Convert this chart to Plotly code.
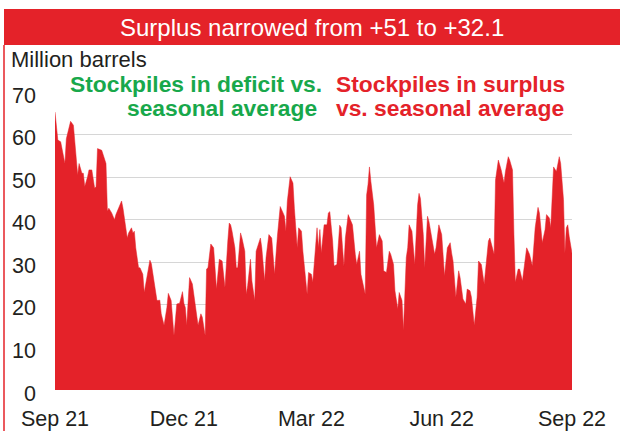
import pandas as pd
import plotly.graph_objects as go

# Days elapsed since 1 Sep 2021 and the stockpile surplus vs. seasonal average (million barrels)
day = [0, 2, 4, 5, 7, 8, 11, 13, 14, 16, 17, 19, 20, 21, 23, 24, 26, 28, 29, 30,
       33, 34, 36, 37, 38, 40, 42, 43, 45, 47, 48, 50, 51, 52, 54, 55, 56, 57, 59,
       60, 62, 63, 65, 67, 68, 70, 72, 74, 75, 77, 79, 80, 82, 84, 85, 86, 88, 90,
       91, 92, 93, 95, 97, 98, 100, 101, 103, 104, 106, 107, 108, 110, 112, 113,
       114, 116, 118, 120, 121, 122,
       123, 124, 125, 127, 128, 129, 131, 132, 134, 135, 136, 138, 139, 141, 142,
       145, 146, 148, 149, 151, 153, 154, 155, 157, 159, 161, 162, 163, 164, 166,
       168, 169, 171, 172, 174, 175, 178, 179, 181, 182, 184,
       185, 186, 187, 188, 189, 190, 192, 193, 194, 196, 197, 199, 201, 202, 203,
       204, 205, 207, 208, 210, 212, 213, 215, 216, 219, 220, 221, 222, 223, 225,
       227, 229, 231, 232, 234, 236, 237, 239, 240, 242, 243, 245, 246, 248,
       249, 250, 252, 253, 254, 256, 257, 258, 260, 261, 263, 264, 266, 268, 269,
       271, 273, 274, 275, 277, 279, 280, 281, 283, 285, 286, 288, 290, 291, 293,
       294, 296, 298, 299, 301, 303, 305, 306, 307, 309,
       310, 311, 313, 315, 317, 318, 320, 321, 323, 324, 325, 327, 328, 330, 331,
       333, 335, 337, 339, 341, 342, 344, 346, 347, 349, 350, 352, 354, 356, 357,
       359, 360, 361, 362, 363, 364, 365]

surplus = [65.3, 58.7, 58.3, 56.7, 53.2, 59.0, 63.1, 62.2, 58.3, 50.5, 53.2, 50.9, 50.9, 47.8, 50.1, 51.7, 51.7, 47.4, 47.8, 56.7,
           56.3, 55.2, 53.2, 42.0, 42.7, 41.6, 40.0, 41.2, 42.7, 44.4, 42.7, 38.5, 35.7, 36.9, 38.1, 36.9, 37.3, 33.4, 28.7,
           28.7, 27.2, 22.9, 27.2, 30.5, 29.7, 25.6, 21.0, 21.1, 17.9, 15.2, 19.4, 22.7, 21.0, 12.8, 16.7, 20.2, 20.4, 23.1,
           20.4, 19.4, 15.2, 26.4, 24.9, 22.5, 17.9, 15.2, 17.9, 17.1, 12.8, 28.4, 28.7, 34.3, 33.4, 29.5,
           23.7, 30.7, 30.3, 24.1, 31.1, 35.0,
           39.2, 38.8, 37.3, 33.4, 28.7, 28.7, 36.9, 35.7, 32.6, 22.5, 24.5, 30.7, 25.6, 21.0, 32.6,
           35.7, 33.4, 25.6, 31.1, 36.5, 35.7, 31.1, 27.2, 36.1, 43.1, 41.6, 40.8, 37.3, 44.3, 50.1,
           48.6, 42.7, 33.4, 38.1, 37.3, 32.6, 22.5, 27.6, 27.2, 25.3, 32.6,
           38.1, 33.4, 37.7, 32.2, 35.0, 38.8, 38.8, 41.6, 41.9, 35.0, 29.1, 29.5, 38.7, 38.1, 33.4,
           29.1, 35.7, 41.2, 40.4, 38.8, 31.9, 29.5, 32.6, 27.2, 22.5, 45.8, 48.3, 52.4, 49.0, 43.5,
           33.4, 36.5, 35.0, 28.0, 27.6, 32.6, 31.9, 29.5, 23.3, 19.0, 22.9, 21.0, 14.0, 31.1,
           33.4, 38.8, 37.3, 33.4, 29.5, 43.5, 46.2, 45.0, 36.5, 28.7, 40.8, 39.6, 35.7, 31.9, 33.4,
           38.8, 36.5, 32.6, 26.8, 33.4, 34.6, 32.2, 30.3, 21.8, 28.0, 26.4, 21.4, 20.2, 23.7, 23.3,
           21.8, 15.2, 21.8, 30.3, 29.5, 24.9, 31.9, 35.0, 35.7, 33.4,
           31.9, 49.3, 54.0, 51.7, 48.6, 51.3, 54.8, 54.0, 51.7, 36.5, 25.3, 28.4, 28.4, 25.6, 28.7,
           33.4, 31.9, 29.1, 38.1, 42.9, 41.6, 34.6, 37.7, 41.2, 40.4, 38.1, 52.4, 51.3, 54.8, 53.2,
           44.7, 32.2, 38.1, 38.8, 36.1, 33.4, 32.1]

tick_dates = ["2021-09-01", "2021-12-01", "2022-03-01", "2022-06-01", "2022-09-01"]
tick_labels = ["Sep 21", "Dec 21", "Mar 22", "Jun 22", "Sep 22"]
y_ticks = [0, 10, 20, 30, 40, 50, 60, 70]

dates = pd.Timestamp("2021-09-01") + pd.to_timedelta(day, unit="D")

RED = "#E42229"
GREEN = "#18A84B"
INK = "#231F20"
FONT = "Liberation Sans, Arial, sans-serif"

W, H = 620, 431
L, R, T, B = 55, 48, 92, 41
PW, PH = W - L - R, H - T - B


def xp(px):
    """Pixel column -> paper x."""
    return (px - L) / PW


def yp(py):
    """Pixel row (from top) -> paper y."""
    return (H - B - py) / PH


fig = go.Figure()
fig.add_trace(go.Scatter(
    x=dates, y=surplus, mode="lines", fill="tozeroy",
    line=dict(color=RED, width=0.5), fillcolor=RED,
    hoverinfo="skip", showlegend=False,
))

shapes = [
    # banner behind the headline
    dict(type="rect", xref="paper", yref="paper", x0=xp(4), x1=xp(622),
         y0=yp(45), y1=yp(9), fillcolor=RED, line=dict(width=0)),
    # red frame edge on the left
    dict(type="line", xref="paper", yref="paper", x0=xp(4), x1=xp(4),
         y0=yp(45), y1=yp(433), line=dict(color=RED, width=1.5)),
    # white panel behind the labels hides the 60 gridline
    dict(type="rect", xref="paper", yref="paper", x0=xp(127), x1=xp(574),
         y0=yp(139), y1=yp(129), fillcolor="white", line=dict(width=0),
         layer="between"),
]

annotations = [
    dict(text="Surplus narrowed from +51 to +32.1", x=xp(312), y=yp(27.5),
         xref="paper", yref="paper", xanchor="center", yanchor="middle",
         showarrow=False, font=dict(size=24, color="white", family=FONT)),
    dict(text="Million barrels", x=xp(9), y=yp(59.5),
         xref="paper", yref="paper", xanchor="left", yanchor="middle",
         showarrow=False, font=dict(size=22, color=INK, family=FONT)),
    dict(text="<b>Stockpiles in deficit vs.</b>", x=xp(324), y=yp(83.5),
         xref="paper", yref="paper", xanchor="right", yanchor="middle",
         showarrow=False, font=dict(size=22.8, color=GREEN, family=FONT)),
    dict(text="<b>seasonal average</b>", x=xp(319), y=yp(108),
         xref="paper", yref="paper", xanchor="right", yanchor="middle",
         showarrow=False, font=dict(size=22.8, color=GREEN, family=FONT)),
    dict(text="<b>Stockpiles in surplus</b>", x=xp(334), y=yp(83.5),
         xref="paper", yref="paper", xanchor="left", yanchor="middle",
         showarrow=False, font=dict(size=22.8, color=RED, family=FONT)),
    dict(text="<b>vs. seasonal average</b>", x=xp(334), y=yp(108),
         xref="paper", yref="paper", xanchor="left", yanchor="middle",
         showarrow=False, font=dict(size=22.8, color=RED, family=FONT)),
]

fig.update_layout(
    template="none",
    width=W, height=H,
    margin=dict(l=L, r=R, t=T, b=B, pad=0),
    paper_bgcolor="white", plot_bgcolor="white",
    font=dict(family=FONT, size=21.5, color=INK),
    shapes=shapes, annotations=annotations,
    xaxis=dict(
        type="date", range=["2021-09-01", "2022-09-01"],
        tickvals=tick_dates, ticktext=tick_labels,
        showgrid=False, zeroline=False, showline=False, ticks="",
        ticklabelstandoff=13, automargin=False,
        tickfont=dict(size=21.5, color=INK, family=FONT),
    ),
    yaxis=dict(
        range=[0, 70], tickvals=y_ticks,
        showgrid=True, gridcolor="#D6D6D6", gridwidth=1,
        zeroline=False, showline=False, ticks="",
        ticklabelstandoff=18, ticklabelshift=3, automargin=False,
        tickfont=dict(size=21.5, color=INK, family=FONT),
    ),
)

fig.write_html("out.html")
